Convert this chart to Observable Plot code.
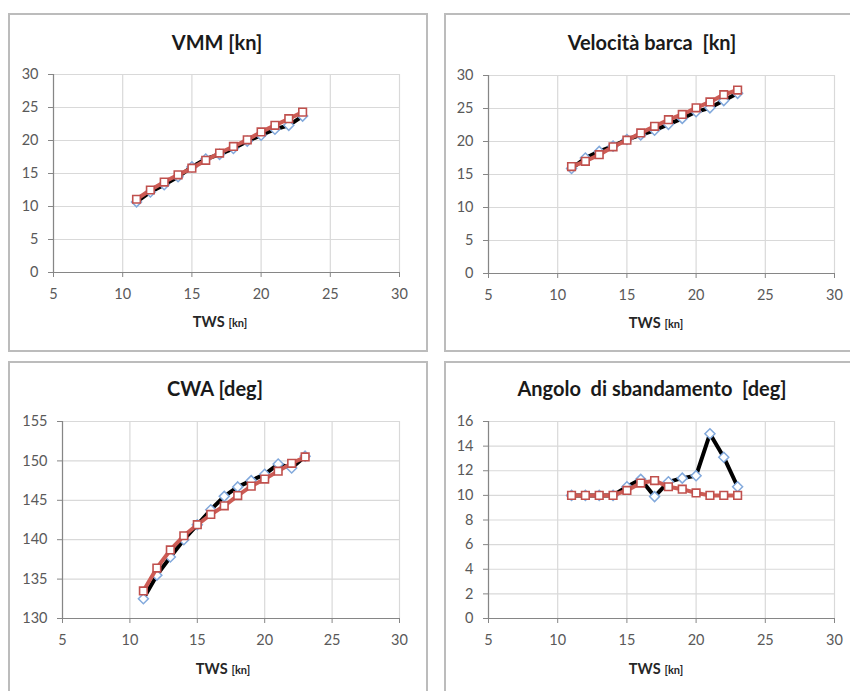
<!DOCTYPE html>
<html>
<head>
<meta charset="utf-8">
<script src="https://cdn.jsdelivr.net/npm/d3@7"></script>
<script src="https://cdn.jsdelivr.net/npm/@observablehq/plot@0.6"></script>
<style>
  body { margin: 0; background: #fff; width: 850px; height: 691px; overflow: hidden; position: relative; font-family: Lato, "Open Sans", sans-serif; }
  .panel { position: absolute; border: 2px solid #bcbcbc; box-sizing: border-box; }
  .title { position: absolute; transform: translate(-50%, -50%); font-weight: bold; font-size: 20px; color: #1a1a1a; white-space: pre; }
  .xlab { position: absolute; transform: translate(-50%, -50%); font-weight: bold; color: #262626; white-space: pre; }
  .xlab .big { font-size: 14.5px; }
  .xlab .small { font-size: 11px; }
  .chart { position: absolute; }
  .chart svg { overflow: visible; }
</style>
</head>
<body>
<script>
// ---- data ----
const tws = [11, 12, 13, 14, 15, 16, 17, 18, 19, 20, 21, 22, 23];
const xTicks = [5, 10, 15, 20, 25, 30];

const titles = ["VMM [kn]", "Velocità barca  [kn]", "CWA [deg]", "Angolo  di sbandamento  [deg]"];
const xLabelMain = "TWS";
const xLabelUnit = "[kn]";

const vmmBlack = [10.7, 12.2, 13.3, 14.5, 16.0, 17.2, 17.9, 18.8, 19.9, 20.8, 21.7, 22.3, 23.7];
const vmmRed   = [11.1, 12.5, 13.7, 14.8, 15.8, 17.0, 18.1, 19.1, 20.1, 21.3, 22.3, 23.3, 24.3];
const vmmTicks = [0, 5, 10, 15, 20, 25, 30];

const boatBlack = [15.9, 17.5, 18.5, 19.3, 20.3, 21.0, 21.7, 22.6, 23.5, 24.5, 25.1, 26.2, 27.3];
const boatRed   = [16.2, 17.0, 18.0, 19.2, 20.2, 21.3, 22.3, 23.3, 24.1, 25.1, 26.0, 27.1, 27.8];
const boatTicks = [0, 5, 10, 15, 20, 25, 30];

const cwaBlack = [132.5, 135.5, 137.8, 140.0, 141.9, 143.8, 145.5, 146.7, 147.5, 148.3, 149.6, 149.1, 150.6];
const cwaRed   = [133.5, 136.4, 138.7, 140.5, 141.9, 143.2, 144.3, 145.6, 146.8, 147.7, 148.7, 149.7, 150.5];
const cwaTicks = [130, 135, 140, 145, 150, 155];

const heelBlack = [10.0, 10.0, 10.0, 10.0, 10.7, 11.3, 9.9, 11.1, 11.4, 11.6, 15.0, 13.1, 10.7];
const heelRed   = [10.0, 10.0, 10.0, 10.0, 10.4, 11.0, 11.2, 10.7, 10.5, 10.2, 10.0, 10.0, 10.0];
const heelTicks = [0, 2, 4, 6, 8, 10, 12, 14, 16];

// ---- layout ----
const panels = [
  {border: {left: 8, top: 13, width: 420, height: 339}, title: [217, 42], xlab: [220, 320],
   svg: {left: 0, top: 58, width: 425, height: 270, mL: 53, mR: 26, mT: 16, mB: 56},
   black: vmmBlack, red: vmmRed, yTicks: vmmTicks},
  {border: {left: 444, top: 13, width: 420, height: 339}, title: [652, 42], xlab: [656, 321],
   svg: {left: 425, top: 58, width: 425, height: 270, mL: 63, mR: 16, mT: 17, mB: 55},
   black: boatBlack, red: boatRed, yTicks: boatTicks},
  {border: {left: 8, top: 361, width: 420, height: 340}, title: [215, 388], xlab: [223, 667],
   svg: {left: 0, top: 405, width: 425, height: 270, mL: 62, mR: 26, mT: 16, mB: 57},
   black: cwaBlack, red: cwaRed, yTicks: cwaTicks},
  {border: {left: 444, top: 361, width: 420, height: 340}, title: [652, 388], xlab: [656, 667],
   svg: {left: 425, top: 405, width: 425, height: 270, mL: 63, mR: 16, mT: 16, mB: 57},
   black: heelBlack, red: heelRed, yTicks: heelTicks}
];

panels.forEach((p, i) => {
  const b = document.createElement("div");
  b.className = "panel";
  Object.assign(b.style, {left: p.border.left + "px", top: p.border.top + "px", width: p.border.width + "px", height: p.border.height + "px"});
  document.body.appendChild(b);

  const t = document.createElement("div");
  t.className = "title";
  t.textContent = titles[i];
  Object.assign(t.style, {left: p.title[0] + "px", top: p.title[1] + "px"});
  document.body.appendChild(t);

  const l = document.createElement("div");
  l.className = "xlab";
  l.innerHTML = `<span class="big">${xLabelMain}</span> <span class="small">${xLabelUnit}</span>`;
  Object.assign(l.style, {left: p.xlab[0] + "px", top: p.xlab[1] + "px"});
  document.body.appendChild(l);

  const black = tws.map((x, j) => ({x, y: p.black[j]}));
  const red = tws.map((x, j) => ({x, y: p.red[j]}));
  const yMin = p.yTicks[0], yMax = p.yTicks[p.yTicks.length - 1];

  const chart = Plot.plot({
    width: p.svg.width, height: p.svg.height,
    marginLeft: p.svg.mL, marginRight: p.svg.mR, marginTop: p.svg.mT, marginBottom: p.svg.mB,
    style: {fontFamily: "Lato, 'Open Sans', sans-serif", fontSize: "14px", color: "#595959", background: "transparent"},
    x: {domain: [5, 30]},
    y: {domain: [yMin, yMax]},
    marks: [
      Plot.gridX(xTicks, {stroke: "#d9d9d9", strokeOpacity: 1, strokeWidth: 1.2}),
      Plot.gridY(p.yTicks, {stroke: "#d9d9d9", strokeOpacity: 1, strokeWidth: 1.2}),
      Plot.ruleX([5], {stroke: "#868686", strokeWidth: 1.2}),
      Plot.ruleY([yMin], {stroke: "#868686", strokeWidth: 1.2}),
      Plot.axisX(xTicks, {tickSize: 5, tickPadding: 11, stroke: "#868686", fill: "#595959", fontSize: 14.5, label: null}),
      Plot.axisY(p.yTicks, {tickSize: 5, tickPadding: 10, stroke: "#868686", fill: "#595959", fontSize: 14.5, label: null}),
      Plot.line(black, {x: "x", y: "y", stroke: "#000", strokeWidth: 4, curve: "linear"}),
      Plot.dot(black, {x: "x", y: "y", symbol: "diamond2", r: 4.5, stroke: "#82a9dc", strokeWidth: 1.5, fill: "#fff"}),
      Plot.line(red, {x: "x", y: "y", stroke: "#cd5c55", strokeWidth: 4, curve: "linear"}),
      Plot.dot(red, {x: "x", y: "y", symbol: "square", r: 4.3, stroke: "#c0504d", strokeWidth: 1.6, fill: "#fff"})
    ]
  });
  const wrap = document.createElement("div");
  wrap.className = "chart";
  Object.assign(wrap.style, {left: p.svg.left + "px", top: p.svg.top + "px"});
  wrap.appendChild(chart);
  document.body.appendChild(wrap);
});
</script>
</body>
</html>
